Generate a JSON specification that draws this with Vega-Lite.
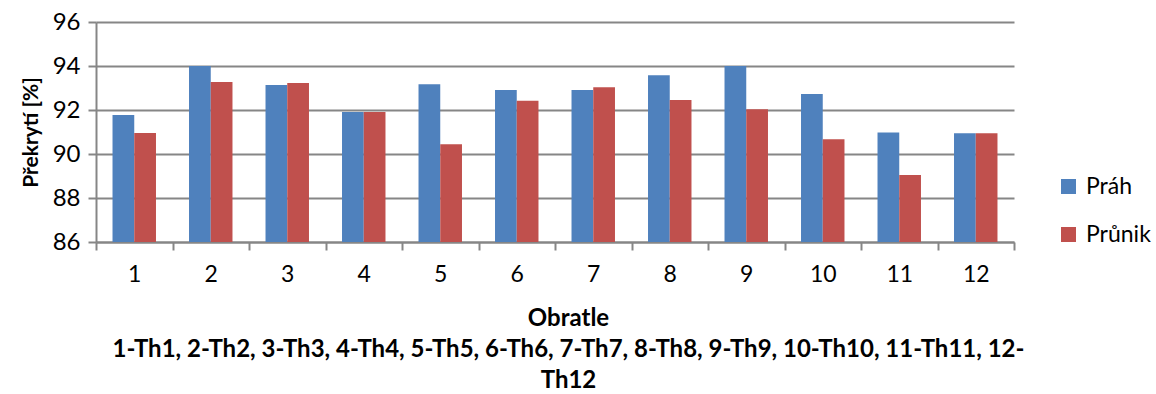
{
  "$schema": "https://vega.github.io/schema/vega-lite/v6.json",
  "autosize": "none",
  "width": 918,
  "height": 220,
  "padding": {"left": 96, "top": 22, "right": 142, "bottom": 152},
  "background": "white",
  "data": {
    "values": [
      {"obratel": 1, "serie": "Práh", "hodnota": 91.77},
      {"obratel": 1, "serie": "Průnik", "hodnota": 90.95},
      {"obratel": 2, "serie": "Práh", "hodnota": 94.0},
      {"obratel": 2, "serie": "Průnik", "hodnota": 93.27},
      {"obratel": 3, "serie": "Práh", "hodnota": 93.14},
      {"obratel": 3, "serie": "Průnik", "hodnota": 93.23},
      {"obratel": 4, "serie": "Práh", "hodnota": 91.91},
      {"obratel": 4, "serie": "Průnik", "hodnota": 91.91},
      {"obratel": 5, "serie": "Práh", "hodnota": 93.17},
      {"obratel": 5, "serie": "Průnik", "hodnota": 90.44},
      {"obratel": 6, "serie": "Práh", "hodnota": 92.91},
      {"obratel": 6, "serie": "Průnik", "hodnota": 92.42},
      {"obratel": 7, "serie": "Práh", "hodnota": 92.91},
      {"obratel": 7, "serie": "Průnik", "hodnota": 93.03},
      {"obratel": 8, "serie": "Práh", "hodnota": 93.58},
      {"obratel": 8, "serie": "Průnik", "hodnota": 92.45},
      {"obratel": 9, "serie": "Práh", "hodnota": 94.0},
      {"obratel": 9, "serie": "Průnik", "hodnota": 92.03},
      {"obratel": 10, "serie": "Práh", "hodnota": 92.73},
      {"obratel": 10, "serie": "Průnik", "hodnota": 90.67},
      {"obratel": 11, "serie": "Práh", "hodnota": 90.98},
      {"obratel": 11, "serie": "Průnik", "hodnota": 89.05},
      {"obratel": 12, "serie": "Práh", "hodnota": 90.94},
      {"obratel": 12, "serie": "Průnik", "hodnota": 90.94}
    ]
  },
  "mark": {"type": "bar"},
  "encoding": {
    "x": {
      "field": "obratel",
      "type": "ordinal",
      "scale": {"paddingInner": 0, "paddingOuter": 0},
      "axis": {
        "tickBand": "extent",
        "labelAngle": 0,
        "labelFont": "Lato",
        "labelFontSize": 23,
        "labelColor": "#000000",
        "labelPadding": 13,
        "tickSize": 8,
        "tickColor": "#868686",
        "tickWidth": 2,
        "domainColor": "#868686",
        "domainWidth": 2,
        "grid": false,
        "title": ["Obratle", "1-Th1, 2-Th2, 3-Th3, 4-Th4, 5-Th5, 6-Th6, 7-Th7, 8-Th8, 9-Th9, 10-Th10, 11-Th11, 12-", "Th12"],
        "titleFont": "Lato",
        "titleFontSize": 24,
        "titleFontWeight": "bold",
        "titleColor": "#000000",
        "titleLineHeight": 31,
        "titlePadding": 20,
        "titleX": 472
      }
    },
    "xOffset": {
      "field": "serie",
      "type": "nominal",
      "scale": {"paddingInner": 0, "paddingOuter": 0.76}
    },
    "y": {
      "field": "hodnota",
      "type": "quantitative",
      "scale": {"domain": [86, 96], "zero": false, "nice": false},
      "axis": {
        "values": [86, 88, 90, 92, 94, 96],
        "labelFont": "Lato",
        "labelFontSize": 24,
        "labelColor": "#000000",
        "labelPadding": 8,
        "tickSize": 8,
        "tickColor": "#868686",
        "tickWidth": 2,
        "domainColor": "#868686",
        "domainWidth": 2,
        "gridColor": "#868686",
        "gridWidth": 2,
        "title": "Překrytí [%]",
        "titleFont": "Lato",
        "titleFontSize": 21,
        "titleFontWeight": "bold",
        "titleColor": "#000000",
        "titlePadding": 11
      }
    },
    "y2": {"datum": 86},
    "color": {
      "field": "serie",
      "type": "nominal",
      "scale": {"domain": ["Práh", "Průnik"], "range": ["#4F81BD", "#C0504D"]},
      "legend": {
        "title": null,
        "orient": "none",
        "legendX": 961,
        "legendY": 153,
        "padding": 0,
        "symbolType": "square",
        "symbolSize": 225,
        "symbolStrokeWidth": 0,
        "labelFont": "Lato",
        "labelFontSize": 23,
        "labelColor": "#000000",
        "labelOffset": 6,
        "rowPadding": 24
      }
    }
  },
  "config": {"view": {"stroke": null}}
}
